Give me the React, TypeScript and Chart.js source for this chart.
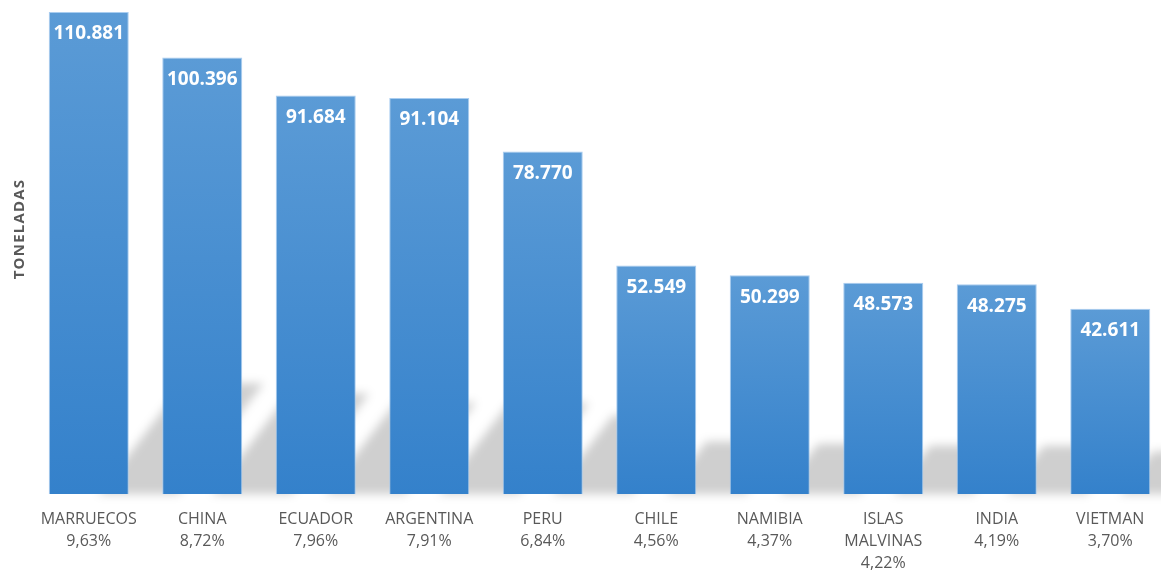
import React, { useEffect, useRef } from "react";
import { Chart, registerables } from "chart.js";

Chart.register(...registerables);

const categories = [
  "MARRUECOS",
  "CHINA",
  "ECUADOR",
  "ARGENTINA",
  "PERU",
  "CHILE",
  "NAMIBIA",
  "ISLAS MALVINAS",
  "INDIA",
  "VIETMAN",
];
const tons = [110881, 100396, 91684, 91104, 78770, 52549, 50299, 48573, 48275, 42611];
const shares = [9.63, 8.72, 7.96, 7.91, 6.84, 4.56, 4.37, 4.22, 4.19, 3.7];
const yTitle = "TONELADAS";

const fmtThousands = (v: number) => String(v).replace(/\B(?=(\d{3})+(?!\d))/g, ".");
const fmtPct = (v: number) => v.toFixed(2).replace(".", ",") + "%";

const shadowPlugin = {
  id: "barShadow",
  beforeDatasetsDraw(chart: any) {
    const ctx = chart.ctx;
    const meta = chart.getDatasetMeta(0);
    ctx.save();
    ctx.filter = "blur(5px)";
    ctx.fillStyle = "rgba(0,0,0,0.19)";
    meta.data.forEach((bar: any) => {
      const w = bar.width;
      const base = bar.base;
      const h = base - bar.y;
      const dy = 0.23 * h;
      const dx = dy / 1.3;
      const off = 0.62 * w;
      const x0 = bar.x - w / 2 + off;
      const x1 = bar.x + w / 2 + off;
      ctx.beginPath();
      ctx.moveTo(x0, base);
      ctx.lineTo(x1, base);
      ctx.lineTo(x1 + dx, base - dy);
      ctx.lineTo(x0 + dx, base - dy);
      ctx.closePath();
      ctx.fill();
    });
    ctx.restore();
  },
};

const labelPlugin = {
  id: "barLabels",
  afterDatasetsDraw(chart: any) {
    const ctx = chart.ctx;
    const meta = chart.getDatasetMeta(0);
    ctx.save();
    ctx.font = 'bold 19px "Open Sans"';
    ctx.fillStyle = "#ffffff";
    ctx.textAlign = "center";
    ctx.textBaseline = "middle";
    meta.data.forEach((bar: any, i: number) => {
      ctx.fillText(fmtThousands(tons[i]), bar.x, bar.y + 22);
    });
    ctx.restore();
  },
};

const yTitlePlugin = {
  id: "yTitle",
  afterDraw(chart: any) {
    const ctx = chart.ctx;
    ctx.save();
    ctx.translate(20, 229);
    ctx.rotate(-Math.PI / 2);
    ctx.font = 'bold 15px "Open Sans"';
    (ctx as any).letterSpacing = "1.2px";
    ctx.fillStyle = "#595959";
    ctx.textAlign = "center";
    ctx.textBaseline = "middle";
    ctx.fillText(yTitle, 0, 0);
    ctx.restore();
  },
};

export default function App() {
  const ref = useRef<HTMLCanvasElement | null>(null);

  useEffect(() => {
    if (!ref.current) return;
    const labels = categories.map((c, i) => [...c.split(" "), fmtPct(shares[i])]);
    const chart = new Chart(ref.current, {
      type: "bar",
      data: {
        labels,
        datasets: [
          {
            data: tons,
            backgroundColor: (c: any) => {
              const chartRef = c.chart;
              const ys = chartRef.scales.y;
              if (!ys || c.raw == null) return "#4a90d4";
              const top = ys.getPixelForValue(c.raw);
              const bottom = ys.getPixelForValue(0);
              if (!isFinite(top) || !isFinite(bottom)) return "#4a90d4";
              const g = chartRef.ctx.createLinearGradient(0, top, 0, bottom);
              g.addColorStop(0, "#5b9bd6");
              g.addColorStop(1, "#3481cb");
              return g;
            },
            borderColor: "rgba(160,200,238,0.9)",
            borderWidth: 1,
            barPercentage: 0.705,
            categoryPercentage: 1,
          },
        ],
      },
      options: {
        responsive: false,
        animation: false,
        layout: { padding: { left: 32, top: 8, right: 0, bottom: 0 } },
        plugins: {
          legend: { display: false },
          tooltip: { enabled: false },
          title: { display: false },
        },
        scales: {
          x: {
            grid: { display: false, drawTicks: false },
            border: { display: false },
            ticks: {
              color: "#595959",
              font: { family: '"Open Sans"', size: 16, lineHeight: 22 / 16 },
              padding: 14,
              maxRotation: 0,
              autoSkip: false,
            },
            afterFit: (s: any) => {
              s.height = 78;
            },
          },
          y: {
            display: false,
            min: 0,
            max: 111800,
          },
        },
      },
      plugins: [shadowPlugin, labelPlugin, yTitlePlugin],
    });
    return () => chart.destroy();
  }, []);

  return (
    <div
      style={{
        position: "absolute",
        left: 0,
        top: 0,
        width: 1161,
        height: 572,
        overflow: "hidden",
        background: "#ffffff",
      }}
    >
      <canvas ref={ref} width={1167} height={572} style={{ display: "block" }} />
    </div>
  );
}
